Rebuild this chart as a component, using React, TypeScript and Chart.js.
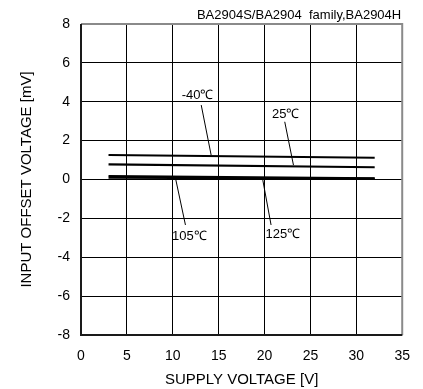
import React, { useEffect, useRef } from "react";
import { Chart, registerables } from "chart.js";

Chart.register(...registerables);

const xTicks = [0, 5, 10, 15, 20, 25, 30, 35];
const yTicks = [-8, -6, -4, -2, 0, 2, 4, 6, 8];

const supplyV = [3, 32];
const vio_m40 = [1.26, 1.12];
const vio_25 = [0.78, 0.63];
const vio_105 = [0.18, 0.06];
const vio_125 = [0.09, 0.04];

const labelTexts = ["-40℃", "25℃", "105℃", "125℃"];
const labelX = [12.7, 22.3, 11.8, 22.0];
const labelY = [4.35, 3.34, -2.94, -2.82];
const leaderX = [
  [13.1, 14.18],
  [22.2, 23.15],
  [10.3, 11.38],
  [19.81, 20.71],
];
const leaderY = [
  [3.83, 1.26],
  [2.97, 0.74],
  [0.06, -2.34],
  [-0.03, -2.34],
];

const topCaption = "BA2904S/BA2904  family,BA2904H";
const xTitle = "SUPPLY VOLTAGE [V]";
const yTitle = "INPUT OFFSET VOLTAGE [mV]";

const FONT = '"Liberation Sans", Arial, sans-serif';

const toPts = (xs: number[], ys: number[]) => xs.map((x, i) => ({ x, y: ys[i] }));

const overlayPlugin = {
  id: "overlay",
  afterDraw(chart: any) {
    const { ctx, chartArea, scales } = chart;
    const { left, right, top, bottom } = chartArea;
    ctx.save();
    // frame
    ctx.lineWidth = 2;
    ctx.strokeStyle = "#8a8a8a";
    ctx.beginPath();
    ctx.moveTo(left, top);
    ctx.lineTo(right, top);
    ctx.lineTo(right, bottom);
    ctx.stroke();
    ctx.strokeStyle = "#1a1a1a";
    ctx.beginPath();
    ctx.moveTo(left, top);
    ctx.lineTo(left, bottom);
    ctx.lineTo(right, bottom);
    ctx.stroke();
    // labels
    ctx.fillStyle = "#000";
    ctx.font = "13px " + FONT;
    ctx.textAlign = "center";
    ctx.textBaseline = "middle";
    labelTexts.forEach((t, i) => {
      ctx.fillText(t, scales.x.getPixelForValue(labelX[i]), scales.y.getPixelForValue(labelY[i]));
    });
    // caption
    ctx.font = "13px " + FONT;
    ctx.textAlign = "right";
    ctx.fillText(topCaption, right - 1, 15);
    ctx.restore();
  },
};

export default function App() {
  const ref = useRef<HTMLCanvasElement>(null);
  useEffect(() => {
    if (!ref.current) return;
    const seriesStyle = {
      borderColor: "#000",
      borderWidth: 2.2,
      pointRadius: 0,
      fill: false,
      tension: 0,
    };
    const leaderStyle = {
      borderColor: "#000",
      borderWidth: 1,
      pointRadius: 0,
      fill: false,
      tension: 0,
    };
    const chart = new Chart(ref.current, {
      type: "line",
      data: {
        datasets: [
          { label: "-40℃", data: toPts(supplyV, vio_m40), ...seriesStyle },
          { label: "25℃", data: toPts(supplyV, vio_25), ...seriesStyle },
          { label: "105℃", data: toPts(supplyV, vio_105), ...seriesStyle },
          { label: "125℃", data: toPts(supplyV, vio_125), ...seriesStyle },
          ...leaderX.map((lx, i) => ({
            label: "leader " + labelTexts[i],
            data: toPts(lx, leaderY[i]),
            ...leaderStyle,
          })),
        ],
      },
      options: {
        responsive: false,
        animation: false,
        layout: { padding: { left: 0, top: 24, right: 17, bottom: 0 } },
        plugins: {
          legend: { display: false },
          tooltip: { enabled: false },
          title: { display: false },
        },
        scales: {
          x: {
            type: "linear",
            min: 0,
            max: 35,
            afterBuildTicks: (s: any) => {
              s.ticks = xTicks.map((v) => ({ value: v }));
            },
            afterFit: (s: any) => {
              s.height = 54;
            },
            grid: { color: "#000", lineWidth: 1, drawTicks: false },
            border: { display: false },
            ticks: {
              color: "#000",
              font: { family: FONT, size: 14 },
              padding: 13,
              maxRotation: 0,
              autoSkip: false,
            },
            title: {
              display: true,
              text: xTitle,
              color: "#000",
              font: { family: FONT, size: 15 },
              padding: { top: 0, bottom: 0 },
            },
          },
          y: {
            type: "linear",
            min: -8,
            max: 8,
            afterBuildTicks: (s: any) => {
              s.ticks = yTicks.map((v) => ({ value: v }));
            },
            afterFit: (s: any) => {
              s.width = 81;
            },
            grid: { color: "#000", lineWidth: 1, drawTicks: false },
            border: { display: false },
            ticks: {
              color: "#000",
              font: { family: FONT, size: 14 },
              padding: 11,
              autoSkip: false,
            },
            title: {
              display: true,
              text: yTitle,
              color: "#000",
              font: { family: FONT, size: 15 },
              padding: { top: 18, bottom: 0 },
            },
          },
        },
      },
      plugins: [overlayPlugin],
    } as any);
    return () => chart.destroy();
  }, []);
  return (
    <div style={{ position: "fixed", left: 0, top: 0, width: 423, height: 389, background: "#fff" }}>
      <canvas ref={ref} width={423} height={389} />
    </div>
  );
}
